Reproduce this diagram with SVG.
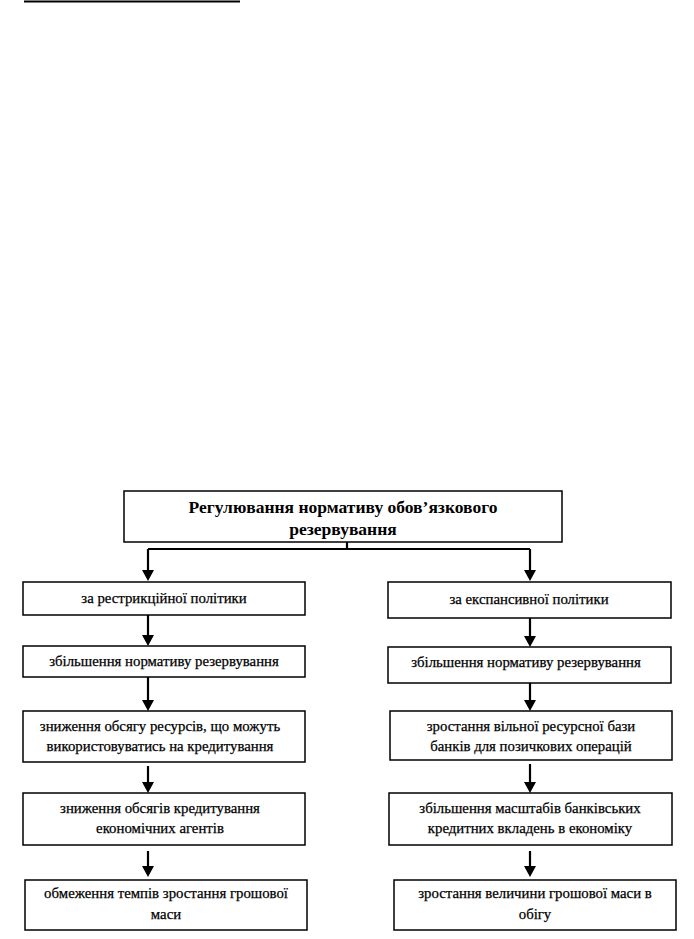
<svg xmlns="http://www.w3.org/2000/svg" width="694" height="939" viewBox="0 0 694 939">
<style>
.box{fill:#fff;stroke:#000;stroke-width:1.5}
.t{font-family:"Liberation Serif","Times New Roman",serif;font-size:14.8px;fill:#000;text-anchor:middle;stroke:#000;stroke-width:0.25}
.h{font-family:"Liberation Serif","Times New Roman",serif;font-size:17.5px;font-weight:bold;fill:#000;text-anchor:middle}
.c{stroke:#000;stroke-width:2.2;fill:none}
.a{fill:#000}
</style>
<rect width="694" height="939" fill="#fff"/>
<line x1="24" y1="1.5" x2="240" y2="1.5" stroke="#000" stroke-width="2"/>
<g id="connectors">
<path class="c" d="M347,542 V549"/>
<path class="c" d="M148,549 H530"/>
<path class="c" d="M148,549 V572"/><polygon class="a" points="142,570 154,570 148,581"/>
<path class="c" d="M530,549 V572"/><polygon class="a" points="524,570 536,570 530,581"/>
<path class="c" d="M148,615 V638"/><polygon class="a" points="142,635 154,635 148,646"/>
<path class="c" d="M530,618 V639"/><polygon class="a" points="524,636 536,636 530,647"/>
<path class="c" d="M148,677 V703"/><polygon class="a" points="142,700 154,700 148,711"/>
<path class="c" d="M530,683 V703"/><polygon class="a" points="524,700 536,700 530,711"/>
<path class="c" d="M148,766 V785"/><polygon class="a" points="142,782 154,782 148,793"/>
<path class="c" d="M530,764 V785"/><polygon class="a" points="524,782 536,782 530,793"/>
<path class="c" d="M148,851 V870"/><polygon class="a" points="142,866 154,866 148,877"/>
<path class="c" d="M530,851 V870"/><polygon class="a" points="524,866 536,866 530,877"/>
</g>
<g id="title">
<rect class="box" x="124" y="491" width="438" height="51"/>
<text class="h" x="343" y="513">Регулювання нормативу обов’язкового</text>
<text class="h" x="343" y="535">резервування</text>
</g>
<g id="L1">
<rect class="box" x="23" y="582" width="282" height="33"/>
<text class="t" x="164" y="603">за рестрикційної політики</text>
</g>
<g id="L2">
<rect class="box" x="23" y="646" width="282" height="31"/>
<text class="t" x="164" y="666">збільшення нормативу резервування</text>
</g>
<g id="L3">
<rect class="box" x="23" y="711" width="282" height="51"/>
<text class="t" x="160" y="731">зниження обсягу ресурсів, що можуть</text>
<text class="t" x="160" y="751">використовуватись на кредитування</text>
</g>
<g id="L4">
<rect class="box" x="23" y="793" width="282" height="52"/>
<text class="t" x="160" y="813">зниження обсягів кредитування</text>
<text class="t" x="160" y="833">економічних агентів</text>
</g>
<g id="L5">
<rect class="box" x="25" y="880" width="282" height="50"/>
<text class="t" x="166" y="898">обмеження темпів зростання грошової</text>
<text class="t" x="166" y="919">маси</text>
</g>
<g id="R1">
<rect class="box" x="388" y="582" width="283" height="36"/>
<text class="t" x="529" y="604">за експансивної політики</text>
</g>
<g id="R2">
<rect class="box" x="388" y="647" width="283" height="36"/>
<text class="t" x="526" y="667">збільшення нормативу резервування</text>
</g>
<g id="R3">
<rect class="box" x="390" y="711" width="282" height="49"/>
<text class="t" x="531" y="731">зростання вільної ресурсної бази</text>
<text class="t" x="531" y="751">банків для позичкових операцій</text>
</g>
<g id="R4">
<rect class="box" x="389" y="793" width="283" height="52"/>
<text class="t" x="530" y="813">збільшення масштабів банківських</text>
<text class="t" x="530" y="833">кредитних вкладень в економіку</text>
</g>
<g id="R5">
<rect class="box" x="394" y="880" width="282" height="50"/>
<text class="t" x="535" y="898">зростання величини  грошової маси в</text>
<text class="t" x="535" y="919">обігу</text>
</g>
</svg>
